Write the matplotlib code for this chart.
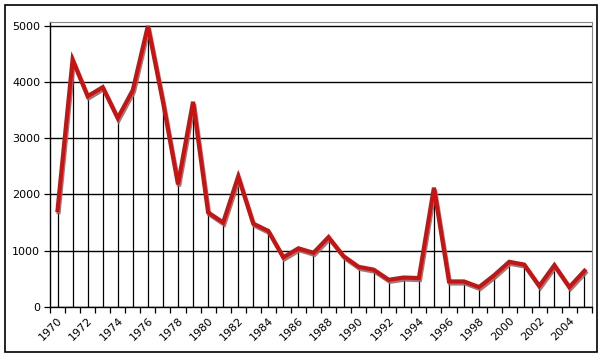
import matplotlib
matplotlib.use('Agg')
import matplotlib.pyplot as plt
import matplotlib.patheffects as pe
from matplotlib.patches import Rectangle
import numpy as np

#%% datos
years = list(range(1970, 2006))
values = [1720, 4400, 3750, 3910, 3360, 3860, 5000, 3650, 2180, 3650,
          1680, 1500, 2320, 1480, 1350, 880, 1040, 960, 1240, 900,
          710, 660, 480, 520, 510, 2120, 450, 450, 350, 560,
          800, 750, 370, 740, 350, 640]
ytick_vals = [0, 1000, 2000, 3000, 4000, 5000]
xlabel_years = years[::2]

fig = plt.figure(figsize=(6.04, 3.57), dpi=100)
ax = fig.add_axes([50/604, 1-306.7/357, 542/604, (306.7-21.5)/357])

# marco exterior
fig.patches.append(Rectangle((5/604, 5/357), 592/604, 347/357, transform=fig.transFigure,
                             fill=False, edgecolor='black', lw=1.2))

x = np.arange(len(years))

# lineas de caida
ax.vlines(x, 0, values, color='black', lw=0.9, zorder=2)
ax.plot(x, values, color='#cc1111', lw=3.0, solid_joinstyle='miter', zorder=4,
        path_effects=[pe.SimpleLineShadow(offset=(0.8, -1.5), shadow_color='#777777', alpha=0.9),
                      pe.Normal()])

ax.set_xlim(-0.5, len(years) - 0.5)
ax.set_ylim(0, 5080)

ax.set_yticks(ytick_vals)
ax.set_yticklabels([str(v) for v in ytick_vals], fontsize=8, family='DejaVu Sans')
ax.yaxis.grid(True, color='black', lw=1)
ax.set_axisbelow(True)

ax.set_xticks(x[::2])
ax.set_xticklabels([str(y) for y in xlabel_years], rotation=45, ha='right', va='top',
                   rotation_mode='anchor', fontsize=8)
ax.set_xticks(np.arange(-0.5, len(years)), minor=True)
ax.tick_params(axis='x', which='major', length=0, pad=6)
ax.tick_params(axis='x', which='minor', length=4, width=0.9, direction='out')
ax.tick_params(axis='y', length=4, width=0.9, pad=3)

for s in ['top', 'right']:
    ax.spines[s].set_color('#888888')
for s in ['left', 'bottom']:
    ax.spines[s].set_color('black')
    ax.spines[s].set_linewidth(1)

fig.savefig('out.png', dpi=100)
